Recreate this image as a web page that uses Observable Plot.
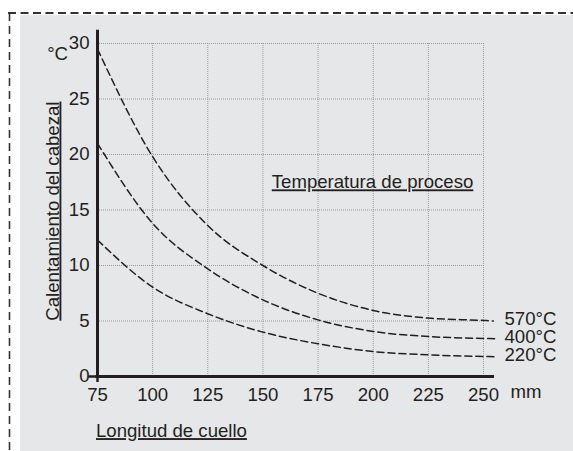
<!DOCTYPE html>
<html>
<head>
<meta charset="utf-8">
<script src="https://cdn.jsdelivr.net/npm/d3@7"></script>
<script src="https://cdn.jsdelivr.net/npm/@observablehq/plot@0.6"></script>
<style>
  html, body { margin: 0; padding: 0; background: #ffffff; }
  #wrap { position: relative; width: 573px; height: 451px; overflow: hidden; }
  #bg { position: absolute; left: 20px; top: 15px; right: 0; bottom: 0; background: #e6e7e8; }
  #deco { position: absolute; left: 0; top: 0; }
  #chart { position: absolute; left: 0; top: 0; }
  text.ul { text-decoration: underline; }
</style>
</head>
<body>
<div id="wrap">
  <div id="bg"></div>
  <svg id="deco" width="573" height="451">
    <line x1="8" y1="13" x2="573" y2="13" stroke="#333" stroke-width="2" stroke-dasharray="8,4.5"/>
    <line x1="9.5" y1="13" x2="9.5" y2="451" stroke="#333" stroke-width="1.6" stroke-dasharray="8,5"/>
  </svg>
  <div id="chart"></div>
</div>
<script>
// ---- data ----
const xTicks = [75, 100, 125, 150, 175, 200, 225, 250];
const yTicks = [0, 5, 10, 15, 20, 25, 30];
const lengths = [75, 100, 125, 150, 175, 200, 225, 250];
const seriesNames = ["570°C", "400°C", "220°C"];
const heat570 = [29.5, 19.8, 13.6, 10.0, 7.5, 5.95, 5.26, 5.05];
const heat400 = [21.0, 13.8, 9.7, 6.9, 5.1, 4.06, 3.6, 3.43];
const heat220 = [12.3, 8.05, 5.65, 4.0, 2.95, 2.25, 1.95, 1.8];
const endLength = [254.5, 256.2, 256.2];
const endHeat = [5.0, 3.4, 1.78];
const yTitle = "Calentamiento del cabezal";
const xTitle = "Longitud de cuello";
const legendTitle = "Temperatura de proceso";

const allSeries = [heat570, heat400, heat220];
const rows = [];
seriesNames.forEach((name, i) => {
  lengths.forEach((x, j) => rows.push({series: name, x, y: allSeries[i][j]}));
  rows.push({series: name, x: endLength[i], y: endHeat[i]});
});
const labels = seriesNames.map((name, i) => ({series: name, x: 250, y: endHeat[i]}));

const ink = "#231f20";
const fs = 18.6;

const chart = Plot.plot({
  width: 573,
  height: 451,
  marginLeft: 97,
  marginRight: 90,
  marginTop: 43,
  marginBottom: 75,
  style: {background: "transparent", color: ink, fontFamily: "'Liberation Sans', Arial, sans-serif", fontSize: fs + "px", overflow: "visible"},
  x: {domain: [75, 250], label: null},
  y: {domain: [0, 30], label: null},
  marks: [
    Plot.gridX(xTicks.slice(1), {stroke: "#9a9a9a", strokeOpacity: 1, strokeWidth: 1, strokeDasharray: "1,1"}),
    Plot.gridY(yTicks.slice(1), {stroke: "#9a9a9a", strokeOpacity: 1, strokeWidth: 1, strokeDasharray: "1,1"}),
    Plot.line(rows, {x: "x", y: "y", z: "series", curve: "monotone-x", stroke: ink, strokeWidth: 1.5, strokeDasharray: "7,4"}),
    Plot.ruleX([75], {y1: 0, y2: 31.2, stroke: ink, strokeWidth: 3}),
    Plot.ruleY([0], {x1: 74.3, x2: 255, stroke: ink, strokeWidth: 3}),
    Plot.axisX([75], {tickSize: 6, strokeWidth: 2.5, stroke: ink, text: null, label: null}),
    Plot.axisY([0], {tickSize: 9, strokeWidth: 2.5, stroke: ink, text: null, label: null}),
    Plot.axisX(xTicks, {tickSize: 0, tickPadding: 11, fontSize: fs, fill: ink, label: null}),
    Plot.axisY(yTicks, {tickSize: 0, tickPadding: 8, fontSize: fs, fill: ink, label: null}),
    Plot.text(labels, {x: "x", y: "y", text: "series", dx: 21, dy: -2, textAnchor: "start", fontSize: fs, fill: ink}),
    Plot.text(["°C"], {x: 75, y: 28.5, dx: -29.5, text: d => d, textAnchor: "end", lineAnchor: "bottom", fontSize: fs, fill: ink}),
    Plot.text(["mm"], {x: 250, y: -1.98, dx: 27, text: d => d, textAnchor: "start", lineAnchor: "bottom", fontSize: fs, fill: ink}),
    Plot.text([yTitle], {x: 75, y: 14.9, dx: -39, rotate: -90, text: d => d, textAnchor: "middle", lineAnchor: "bottom", fontSize: fs, fill: ink}),
    Plot.text([legendTitle], {x: 154, y: 16.95, text: d => d, textAnchor: "start", lineAnchor: "bottom", fontSize: fs, fill: ink}),
    Plot.text([xTitle], {x: 75, y: -5.46, dx: -1.5, text: d => d, textAnchor: "start", lineAnchor: "bottom", fontSize: fs, fill: ink})
  ]
});
const underlined = [yTitle, xTitle, legendTitle];
d3.select(chart).selectAll("text")
  .filter(function() { return underlined.includes(this.textContent); })
  .classed("ul", true)
  .style("text-decoration", "underline");
document.getElementById("chart").appendChild(chart);
</script>
</body>
</html>
